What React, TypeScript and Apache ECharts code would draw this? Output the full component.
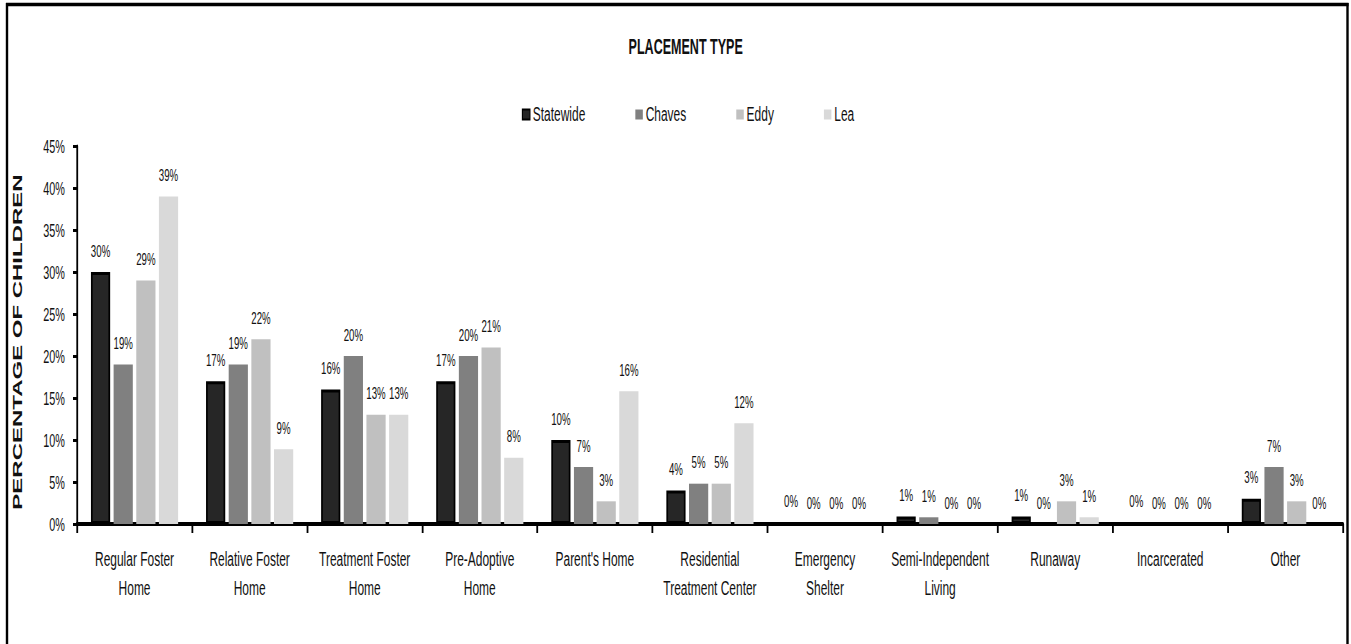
import React, { useEffect, useRef } from "react";
import * as echarts from "echarts";

// ---- data ----
const categories = [
  "Regular Foster\nHome",
  "Relative Foster\nHome",
  "Treatment Foster\nHome",
  "Pre-Adoptive\nHome",
  "Parent's Home",
  "Residential\nTreatment Center",
  "Emergency\nShelter",
  "Semi-Independent\nLiving",
  "Runaway",
  "Incarcerated",
  "Other",
];
const seriesNames = ["Statewide", "Chaves", "Eddy", "Lea"];
const statewide = [30, 17, 16, 17, 10, 4, 0, 0.9, 0.9, 0, 3];
const chaves = [19, 19, 20, 20, 6.8, 4.8, 0, 0.8, 0, 0, 6.8];
const eddy = [29, 22, 13, 21, 2.7, 4.8, 0, 0, 2.7, 0, 2.7];
const lea = [39, 8.9, 13, 7.9, 15.8, 12, 0, 0, 0.8, 0, 0];
const yMin = 0;
const yMax = 45;
const yStep = 5;
const titleText = "PLACEMENT TYPE";
const yAxisTitle = "PERCENTAGE OF CHILDREN";

// ---- layout (whole chart is compressed horizontally like the reference) ----
const S = 0.57;
const VW = 1351;
const W = Math.round(VW / S);
const H = 644;
const px = (real: number) => real / S; // real horizontal px -> pre-scale px
const FONT = "'Liberation Sans', Arial, Helvetica, sans-serif";

export default function App() {
  const ref = useRef<HTMLDivElement>(null);

  useEffect(() => {
    if (!ref.current) return;
    const chart = echarts.init(ref.current, undefined, { renderer: "svg" });
    const valueLabel = {
      show: true,
      position: "top" as const,
      distance: 13,
      fontSize: 17,
      color: "#111",
      fontFamily: FONT,
      formatter: (p: any) => Math.round(p.value) + "%",
    };
    const colors = ["#262626", "#808080", "#c0c0c0", "#d9d9d9"];
    const datasets = [statewide, chaves, eddy, lea];
    const series = seriesNames.map((name, i) => ({
      name,
      type: "bar" as const,
      data: datasets[i],
      barWidth: px(19.2),
      barGap: "18%",
      itemStyle:
        i === 0
          ? { color: colors[i], borderColor: "#000", borderWidth: 3 }
          : { color: colors[i] },
      label: valueLabel,
    }));

    const titleFont = 22;
    const titleWidthReal = 9.13 * titleFont * S;

    chart.setOption({
      animation: false,
      backgroundColor: "#ffffff",
      textStyle: { fontFamily: FONT },
      title: {
        text: titleText,
        left: px(683 - titleWidthReal / 2),
        top: 31,
        textStyle: { fontSize: titleFont, fontWeight: "bold", color: "#111", fontFamily: FONT },
      },
      legend: {
        data: seriesNames,
        left: px(519),
        top: 99,
        icon: "rect",
        itemWidth: px(7.5),
        itemHeight: 10,
        itemGap: px(50),
        textStyle: { fontSize: 21, color: "#111", fontFamily: FONT },
      },
      grid: { left: px(77), right: px(VW - 1343), top: 146, bottom: 120, containLabel: false },
      xAxis: {
        type: "category",
        data: categories,
        axisLine: { show: true, lineStyle: { color: "#000", width: 4 } },
        axisTick: { show: true, length: 9, lineStyle: { color: "#000", width: px(1.8) } },
        axisLabel: {
          interval: 0,
          fontSize: 21,
          lineHeight: 29,
          margin: 21,
          color: "#111",
          fontFamily: FONT,
        },
        splitLine: { show: false },
      },
      yAxis: {
        type: "value",
        min: yMin,
        max: yMax,
        interval: yStep,
        axisLine: { show: true, lineStyle: { color: "#000", width: px(1.8) } },
        axisTick: { show: true, length: px(4), lineStyle: { color: "#000", width: 3 } },
        axisLabel: {
          formatter: "{value}%",
          fontSize: 19,
          margin: px(12),
          color: "#111",
          fontFamily: FONT,
        },
        splitLine: { show: false },
      },
      graphic: [
        {
          type: "text",
          x: px(17.5),
          y: 342,
          rotation: Math.PI / 2,
          silent: true,
          style: {
            text: yAxisTitle,
            fontSize: 24,
            fontWeight: "bold",
            fontFamily: FONT,
            fill: "#111",
            textAlign: "center",
            textVerticalAlign: "middle",
          },
        },
        {
          type: "line",
          silent: true,
          shape: { x1: px(7), y1: 3, x2: px(7), y2: 700 },
          style: { stroke: "#000", lineWidth: px(2.4) },
        },
        {
          type: "line",
          silent: true,
          shape: { x1: px(6), y1: 4.5, x2: px(1348.5), y2: 4.5 },
          style: { stroke: "#000", lineWidth: 3.5 },
        },
        {
          type: "line",
          silent: true,
          shape: { x1: px(1347.5), y1: 3, x2: px(1347.5), y2: 700 },
          style: { stroke: "#000", lineWidth: px(2.4) },
        },
      ],
      series,
    });
    return () => chart.dispose();
  }, []);

  return (
    <div
      style={{
        position: "absolute",
        left: 0,
        top: 0,
        width: VW,
        height: H,
        overflow: "hidden",
        background: "#fff",
      }}
    >
      <div
        ref={ref}
        style={{
          width: W,
          height: H,
          transform: `scaleX(${S})`,
          transformOrigin: "0 0",
        }}
      />
    </div>
  );
}
